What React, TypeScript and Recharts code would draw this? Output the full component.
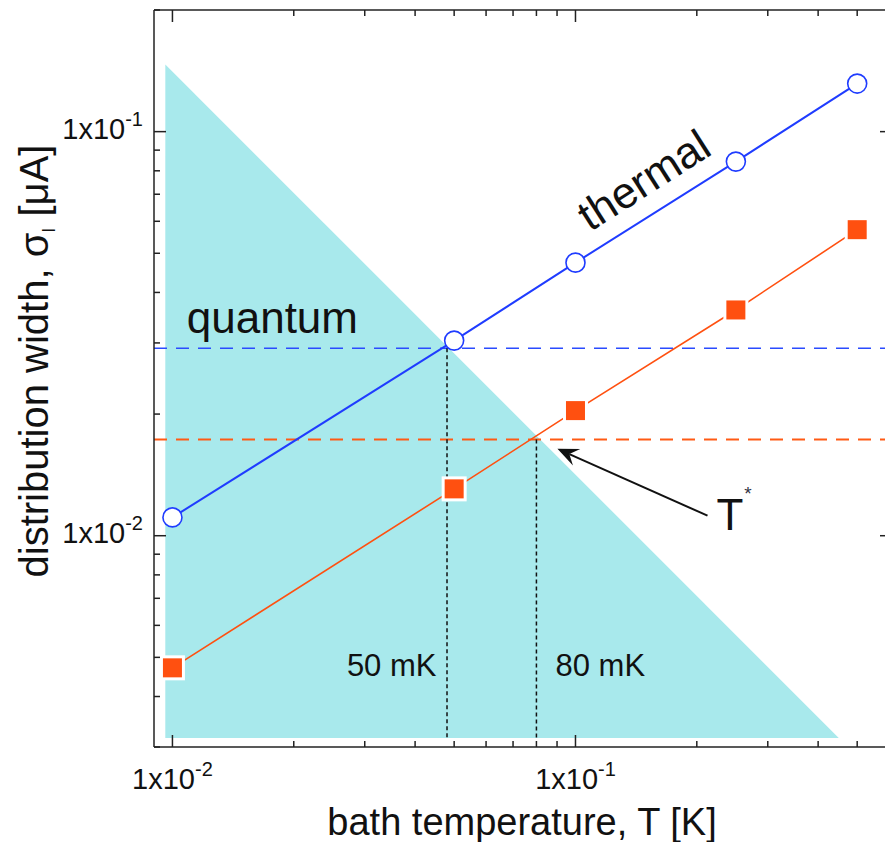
import React from 'react';
import { ComposedChart, XAxis, YAxis, Line, Area, ReferenceLine, ReferenceDot } from 'recharts';

// ---- data ----
const temperatures = [0.01, 0.05, 0.1, 0.25, 0.5];
const thermalWidth = [0.0111, 0.0304, 0.0474, 0.0843, 0.1315];
const measuredWidth = [0.00471, 0.01306, 0.0204, 0.0362, 0.0572];

const quantumRegionX = [0.0096, 0.45];
const quantumRegionY = [0.1466, 0.00316];
const quantumRegionBase = 0.00316;

const thermalLevel = 0.0291;
const tStarLevel = 0.0173;
const crossoverT = [0.048, 0.08];
const crossoverLabels = ['50 mK', '80 mK'];

const arrowTail = { x: 0.2126, y: 0.01121 };
const arrowTip = { x: 0.0902, y: 0.01641 };

const xDomain = [0.009, 0.61];
const yDomain = [0.003, 0.2];
const xTicks = [0.01, 0.02, 0.03, 0.04, 0.05, 0.06, 0.07, 0.08, 0.09, 0.1, 0.2, 0.3, 0.4, 0.5, 0.6];
const yTicks = [0.003, 0.004, 0.005, 0.006, 0.007, 0.008, 0.009, 0.01, 0.02, 0.03, 0.04, 0.05, 0.06, 0.07, 0.08, 0.09, 0.1, 0.2];
const majorTicks = [0.01, 0.1];
const majorExponents = ['-2', '-1'];

const xLabel = 'bath temperature, T [K]';
const yLabelMain = 'distribution width, σ';
const yLabelSub = 'I';
const yLabelUnit = ' [μA]';

// ---- derived tables ----
const thermalData = temperatures.map((t, i) => ({ x: t, y: thermalWidth[i] }));
const measuredData = temperatures.map((t, i) => ({ x: t, y: measuredWidth[i] }));
const regionData = quantumRegionX.map((x, i) => ({ x, y: quantumRegionY[i] }));

// ---- styles ----
const FONT = '"Liberation Sans", Arial, Helvetica, sans-serif';
const AXIS = '#222';
const BLUE = '#1f3cff';
const ORANGE = '#ff5010';
const CYAN = '#a8e9ec';
const TICK_SIZE = 6;
const TICK_MARGIN = 2;
const OFF = TICK_SIZE + TICK_MARGIN; // distance from axis line to the tick anchor point

const majorIndex = (v: number) => majorTicks.findIndex((m) => Math.abs(m - v) < 1e-9);

const BottomTick = (props: any) => {
  const { x, payload } = props;
  const y = props.y - OFF;
  const mi = majorIndex(payload.value);
  const len = mi >= 0 ? 12 : 6;
  return (
    <g>
      <line x1={x} y1={y} x2={x} y2={y - len} stroke={AXIS} strokeWidth={1.5} />
      {mi >= 0 && (
        <text x={x} y={y + 42} textAnchor="middle" fontSize={29} fontFamily={FONT} fill="#111">
          1x10
          <tspan fontSize={20} dy={-13}>{majorExponents[mi]}</tspan>
        </text>
      )}
    </g>
  );
};

const TopTick = (props: any) => {
  const { x, payload } = props;
  const y = props.y + OFF;
  const len = majorIndex(payload.value) >= 0 ? 12 : 6;
  return <line x1={x} y1={y} x2={x} y2={y + len} stroke={AXIS} strokeWidth={1.5} />;
};

const LeftTick = (props: any) => {
  const { y, payload } = props;
  const x = props.x + OFF;
  const mi = majorIndex(payload.value);
  const len = mi >= 0 ? 12 : 6;
  return (
    <g>
      <line x1={x} y1={y} x2={x + len} y2={y} stroke={AXIS} strokeWidth={1.5} />
      {mi >= 0 && (
        <text x={x - 11} y={y + 7} textAnchor="end" fontSize={29} fontFamily={FONT} fill="#111">
          1x10
          <tspan fontSize={20} dy={-13}>{majorExponents[mi]}</tspan>
        </text>
      )}
    </g>
  );
};

const RightTick = (props: any) => {
  const { y, payload } = props;
  const x = props.x - OFF;
  const len = majorIndex(payload.value) >= 0 ? 12 : 6;
  return <line x1={x} y1={y} x2={x - len} y2={y} stroke={AXIS} strokeWidth={1.5} />;
};

const OpenCircle = (props: any) => {
  const { cx, cy } = props;
  if (cx == null || cy == null) return null;
  return <circle cx={cx} cy={cy} r={9.5} fill="#fff" stroke={BLUE} strokeWidth={1.6} />;
};

const FilledSquare = (props: any) => {
  const { cx, cy } = props;
  if (cx == null || cy == null) return null;
  return (
    <g>
      <rect x={cx - 12.5} y={cy - 12.5} width={25} height={25} fill="#fff" />
      <rect x={cx - 9.5} y={cy - 9.5} width={19} height={19} fill={ORANGE} />
    </g>
  );
};

const ArrowShape = (props: any) => {
  const { x1, y1, x2, y2 } = props;
  if ([x1, y1, x2, y2].some((v) => v == null || isNaN(v))) return null;
  const ang = Math.atan2(y2 - y1, x2 - x1);
  const c = Math.cos(ang);
  const s = Math.sin(ang);
  const L = 21;
  const W = 9;
  const bx = x2 - L * c;
  const by = y2 - L * s;
  const nx = x2 - 0.62 * L * c;
  const ny = y2 - 0.62 * L * s;
  const pts = [
    [x2, y2],
    [bx - s * W, by + c * W],
    [nx, ny],
    [bx + s * W, by - c * W],
  ]
    .map((p) => p.join(','))
    .join(' ');
  return (
    <g>
      <line x1={x1} y1={y1} x2={nx} y2={ny} stroke="#111" strokeWidth={2} />
      <polygon points={pts} fill="#111" />
    </g>
  );
};

const center = (p: any) => {
  const vb = p.viewBox || {};
  return { cx: (vb.x ?? 0) + (vb.width ?? 0) / 2, cy: (vb.y ?? 0) + (vb.height ?? 0) / 2 };
};

const quantumText = (p: any) => {
  const { cx, cy } = center(p);
  return (
    <text x={cx} y={cy} textAnchor="middle" fontSize={44} fontFamily={FONT} fill="#111">
      quantum
    </text>
  );
};

const thermalText = (p: any) => {
  const { cx, cy } = center(p);
  return (
    <text
      x={cx}
      y={cy}
      textAnchor="middle"
      dominantBaseline="central"
      fontSize={44}
      fontFamily={FONT}
      fill="#111"
      transform={`rotate(-32.5 ${cx} ${cy})`}
    >
      thermal
    </text>
  );
};

const tStarText = (p: any) => {
  const { cx, cy } = center(p);
  return (
    <text x={cx} y={cy} textAnchor="middle" fontSize={44} fontFamily={FONT} fill="#111">
      T
      <tspan fontSize={19} dy={-30} dx={1} fill="#334">*</tspan>
    </text>
  );
};

const mkText = (txt: string, anchor: 'start' | 'end') => (p: any) => {
  const { cx, cy } = center(p);
  return (
    <text x={cx} y={cy} textAnchor={anchor} fontSize={31} fontFamily={FONT} fill="#111">
      {txt}
    </text>
  );
};

const xAxisLabel = () => (
  <text x={522} y={835} textAnchor="middle" fontSize={38} fontFamily={FONT} fill="#111">
    {xLabel}
  </text>
);

const yAxisLabel = () => (
  <text
    x={48}
    y={361}
    textAnchor="middle"
    fontSize={40}
    fontFamily={FONT}
    fill="#111"
    transform="rotate(-90 48 361)"
  >
    {yLabelMain}
    <tspan fontSize={18} dy={7}>{yLabelSub}</tspan>
    <tspan dy={-7}>{yLabelUnit}</tspan>
  </text>
);

export default function App() {
  return (
    <div
      style={{
        position: 'absolute',
        left: 0,
        top: 0,
        width: 885,
        height: 842,
        overflow: 'hidden',
        background: '#fff',
      }}
    >
      <ComposedChart width={893} height={842} margin={{ top: 9, right: 0, bottom: 0, left: 0 }}>
        <XAxis
          xAxisId="b"
          dataKey="x"
          type="number"
          scale="log"
          domain={xDomain}
          allowDataOverflow
          ticks={xTicks}
          interval={0}
          height={95}
          tickSize={TICK_SIZE}
          tickMargin={TICK_MARGIN}
          tickLine={false}
          tick={<BottomTick />}
          axisLine={{ stroke: AXIS, strokeWidth: 1.5 }}
          label={{ content: xAxisLabel }}
        />
        <XAxis
          xAxisId="t"
          orientation="top"
          dataKey="x"
          type="number"
          scale="log"
          domain={xDomain}
          allowDataOverflow
          ticks={xTicks}
          interval={0}
          height={1}
          tickSize={TICK_SIZE}
          tickMargin={TICK_MARGIN}
          tickLine={false}
          tick={<TopTick />}
          axisLine={{ stroke: AXIS, strokeWidth: 1.5 }}
        />
        <YAxis
          yAxisId="l"
          type="number"
          scale="log"
          domain={yDomain}
          allowDataOverflow
          ticks={yTicks}
          interval={0}
          width={154}
          tickSize={TICK_SIZE}
          tickMargin={TICK_MARGIN}
          tickLine={false}
          tick={<LeftTick />}
          axisLine={{ stroke: AXIS, strokeWidth: 1.5 }}
          label={{ content: yAxisLabel }}
        />
        <YAxis
          yAxisId="r"
          orientation="right"
          type="number"
          scale="log"
          domain={yDomain}
          allowDataOverflow
          ticks={yTicks}
          interval={0}
          width={1}
          tickSize={TICK_SIZE}
          tickMargin={TICK_MARGIN}
          tickLine={false}
          tick={<RightTick />}
          axisLine={{ stroke: AXIS, strokeWidth: 1.5 }}
        />

        <Area
          xAxisId="b"
          yAxisId="l"
          data={regionData}
          dataKey="y"
          type="linear"
          baseValue={quantumRegionBase}
          fill={CYAN}
          fillOpacity={1}
          stroke="none"
          dot={false}
          activeDot={false}
          isAnimationActive={false}
        />

        <ReferenceLine xAxisId="b" yAxisId="l" y={thermalLevel} stroke="#2a4bff" strokeWidth={1.6} strokeDasharray="13 9" />
        <ReferenceLine xAxisId="b" yAxisId="l" y={tStarLevel} stroke="#ff5a14" strokeWidth={2} strokeDasharray="13 9" />
        <ReferenceLine
          xAxisId="b"
          yAxisId="l"
          segment={[
            { x: crossoverT[0], y: thermalLevel },
            { x: crossoverT[0], y: quantumRegionBase },
          ]}
          stroke="#111"
          strokeWidth={1.5}
          strokeDasharray="4 3"
        />
        <ReferenceLine
          xAxisId="b"
          yAxisId="l"
          segment={[
            { x: crossoverT[1], y: tStarLevel },
            { x: crossoverT[1], y: quantumRegionBase },
          ]}
          stroke="#111"
          strokeWidth={1.5}
          strokeDasharray="4 3"
        />
        <ReferenceLine xAxisId="b" yAxisId="l" segment={[arrowTail, arrowTip]} shape={<ArrowShape />} />

        <Line
          xAxisId="b"
          yAxisId="l"
          data={thermalData}
          dataKey="y"
          type="linear"
          stroke={BLUE}
          strokeWidth={2}
          dot={<OpenCircle />}
          activeDot={false}
          isAnimationActive={false}
        />
        <Line
          xAxisId="b"
          yAxisId="l"
          data={measuredData}
          dataKey="y"
          type="linear"
          stroke={ORANGE}
          strokeWidth={1.6}
          dot={<FilledSquare />}
          activeDot={false}
          isAnimationActive={false}
        />

        <ReferenceDot xAxisId="b" yAxisId="l" x={0.0177} y={0.0318} r={1} fill="none" stroke="none" label={quantumText} />
        <ReferenceDot xAxisId="b" yAxisId="l" x={0.1475} y={0.076} r={1} fill="none" stroke="none" label={thermalText} />
        <ReferenceDot xAxisId="b" yAxisId="l" x={0.2475} y={0.01035} r={1} fill="none" stroke="none" label={tStarText} />
        <ReferenceDot xAxisId="b" yAxisId="l" x={0.0452} y={0.0045} r={1} fill="none" stroke="none" label={mkText(crossoverLabels[0], 'end')} />
        <ReferenceDot xAxisId="b" yAxisId="l" x={0.0892} y={0.0045} r={1} fill="none" stroke="none" label={mkText(crossoverLabels[1], 'start')} />
      </ComposedChart>
    </div>
  );
}
